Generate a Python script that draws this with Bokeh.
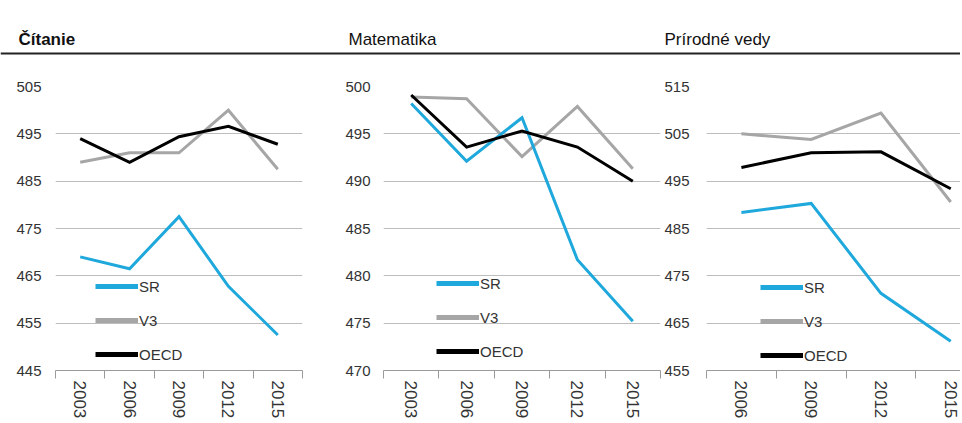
from bokeh.plotting import figure
from bokeh.models import Range1d, FixedTicker, Legend, LegendItem, Span, ColumnDataSource
from bokeh.layouts import row, column
from bokeh.embed import file_html
from bokeh.resources import INLINE
from bokeh.core.properties import value

# ---------------- data ----------------
titles = ["Čítanie", "Matematika", "Prírodné vedy"]
title_styles = ["bold", "normal", "normal"]
series_names = ["SR", "V3", "OECD"]

years_read = [2003, 2006, 2009, 2012, 2015]
read_sr = [469, 466.5, 477.5, 462.8, 452.5]
read_v3 = [489, 491, 491, 500, 487.5]
read_oecd = [494, 489, 494.4, 496.6, 492.8]

years_math = [2003, 2006, 2009, 2012, 2015]
math_sr = [498.2, 492.1, 496.7, 481.7, 475.2]
math_v3 = [498.9, 498.7, 492.6, 497.9, 491.3]
math_oecd = [499.1, 493.6, 495.3, 493.6, 490.0]

years_sci = [2006, 2009, 2012, 2015]
sci_sr = [488.4, 490.3, 471.3, 461.2]
sci_v3 = [505, 503.8, 509.4, 490.6]
sci_oecd = [497.9, 501.0, 501.2, 493.4]

yticks_read = [445, 455, 465, 475, 485, 495, 505]
yticks_math = [470, 475, 480, 485, 490, 495, 500]
yticks_sci = [455, 465, 475, 485, 495, 505, 515]

# ---------------- style ----------------
FONT = "Liberation Sans"
COLORS = {"SR": "#1fa8dc", "V3": "#a6a6a6", "OECD": "#000000"}
FIG_H = 366
NAN = float("nan")


def panel(years, sr, v3, oecd, yticks, width, bl, br, x_end, ystandoff, leg_loc):
    n = len(years)
    idx = list(range(n))
    p = figure(width=width, height=FIG_H,
               x_range=Range1d(-0.5, x_end), y_range=Range1d(yticks[0], yticks[-1]),
               output_backend="svg", toolbar_location=None,
               min_border_left=bl, min_border_right=br,
               min_border_top=31, min_border_bottom=49)
    p.outline_line_color = None
    p.background_fill_color = "white"
    p.border_fill_color = "white"

    # x axis: boundaries as (minor) tick marks, years centred
    xa = p.xaxis[0]
    xa.ticker = FixedTicker(ticks=idx, minor_ticks=[i - 0.5 for i in range(n + 1)])
    xa.major_label_overrides = {i: str(y) for i, y in enumerate(years)}
    xa.major_label_orientation = "vertical"
    xa.major_tick_line_color = None
    xa.major_tick_out = 0
    xa.major_tick_in = 0
    xa.minor_tick_line_color = "#9a9a9a"
    xa.minor_tick_out = 8
    xa.minor_tick_in = 0
    xa.axis_line_color = "#9a9a9a"
    xa.major_label_standoff = 2
    xa.major_label_text_font = FONT
    xa.major_label_text_font_size = "17px"
    xa.major_label_text_color = "#333333"
    p.xgrid.grid_line_color = None

    ya = p.yaxis[0]
    ya.ticker = FixedTicker(ticks=yticks)
    ya.axis_line_color = None
    ya.major_tick_line_color = None
    ya.minor_tick_line_color = None
    ya.major_tick_out = 0
    ya.minor_tick_out = 0
    ya.major_label_standoff = ystandoff
    ya.major_label_text_font = FONT
    ya.major_label_text_font_size = "15px"
    ya.major_label_text_color = "#333333"
    p.ygrid.grid_line_color = "#bdbdbd"
    p.ygrid.grid_line_width = 1

    for name, vals in (("V3", v3), ("SR", sr), ("OECD", oecd)):
        p.line(x=idx, y=vals, line_color=COLORS[name], line_width=3, line_join="miter")

    items = []
    for name in series_names:
        r = p.line(x=[NAN], y=[NAN], line_color=COLORS[name], line_width=5)
        items.append(LegendItem(label=name, renderers=[r]))
    leg = Legend(items=items, location=leg_loc, orientation="vertical",
                 glyph_width=43, glyph_height=20, label_height=20, spacing=14,
                 padding=0, margin=0, label_standoff=1,
                 border_line_color=None, background_fill_alpha=0,
                 label_text_font=FONT, label_text_font_size="15px",
                 label_text_color="#333333")
    p.add_layout(leg)
    return p


p1 = panel(years_read, read_sr, read_v3, read_oecd, yticks_read,
           width=322, bl=55, br=20, x_end=4.5, ystandoff=14, leg_loc=(40, 6))
p2 = panel(years_math, math_sr, math_v3, math_oecd, yticks_math,
           width=339, bl=61, br=1, x_end=4.5, ystandoff=13, leg_loc=(53, 9))
p3 = panel(years_sci, sci_sr, sci_v3, sci_oecd, yticks_sci,
           width=299, bl=44, br=0, x_end=3.14, ystandoff=17, leg_loc=(54, 5))

# ---------------- header: titles and rule ----------------
HW, HH = 960, 55
header = figure(width=HW, height=HH, x_range=Range1d(0, HW), y_range=Range1d(0, HH),
                output_backend="svg", toolbar_location=None,
                x_axis_location=None, y_axis_location=None, min_border=0)
header.grid.visible = False
header.outline_line_color = None
title_x = [18, 348, 664]
src = ColumnDataSource(dict(x=title_x, y=[16] * 3, text=titles, style=title_styles))
header.text(x="x", y="y", text="text", source=src, text_font=value(FONT),
            text_font_size="17px", text_font_style={"field": "style"},
            text_color="#111111", text_baseline="alphabetic", text_align="left")
header.add_layout(Span(location=2, dimension="width", line_color="#222222", line_width=2))

layout = column(header, row(p1, p2, p3, spacing=0), spacing=0)

open("out.html", "w").write(file_html(layout, INLINE))
